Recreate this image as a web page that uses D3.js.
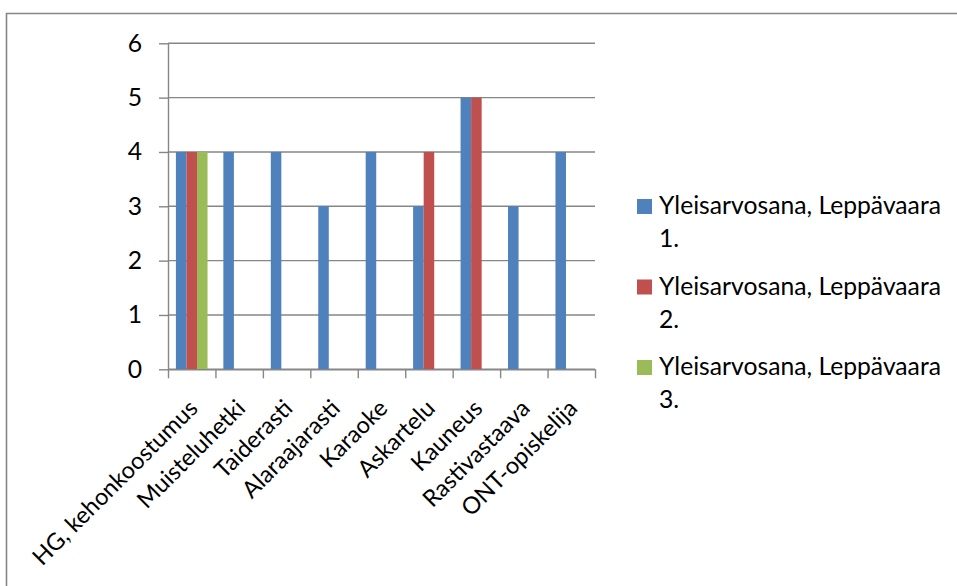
<!DOCTYPE html>
<html>
<head>
<meta charset="utf-8">
<script src="https://cdn.jsdelivr.net/npm/d3@7"></script>
<style>
  html, body { margin: 0; padding: 0; background: #fff; }
  svg { display: block; }
  text { font-family: Lato, "Open Sans", sans-serif; fill: #000; }
</style>
</head>
<body>
<svg id="chart" width="957" height="586"></svg>
<script>
// Activity ratings per group
const categories = ["HG, kehonkoostumus", "Muisteluhetki", "Taiderasti", "Alaraajarasti",
                    "Karaoke", "Askartelu", "Kauneus", "Rastivastaava", "ONT-opiskelija"];
const seriesNames = ["Yleisarvosana, Leppävaara 1.", "Yleisarvosana, Leppävaara 2.", "Yleisarvosana, Leppävaara 3."];
const series1 = [4, 4, 4, 3, 4, 3, 5, 3, 4];
const series2 = [4, null, null, null, null, 4, 5, null, null];
const series3 = [4, null, null, null, null, null, null, null, null];
const yTicks = [0, 1, 2, 3, 4, 5, 6];
const colors = ["#4F81BD", "#C0504D", "#9BBB59"];

const seriesValues = [series1, series2, series3];
const svg = d3.select("#chart");
const gridColor = "#868686";
const fontSize = 24.7;
const catFontSize = 23.5;

// Outer chart frame
svg.append("path")
  .attr("d", "M6.5,586 V13.5 H957")
  .attr("fill", "none")
  .attr("stroke", gridColor)
  .attr("stroke-width", 1.6);

const plot = { left: 168, right: 595, top: 43.3, bottom: 369.3 };

const x = d3.scaleBand().domain(categories).range([plot.left, plot.right]).paddingInner(0).paddingOuter(0);
const xSub = d3.scaleBand().domain(d3.range(seriesNames.length)).range([0, x.bandwidth()]).paddingInner(0).paddingOuter(0.75);
const y = d3.scaleLinear().domain([0, 6]).range([plot.bottom, plot.top]);

// Horizontal gridlines
svg.append("g").selectAll("line").data(yTicks).join("line")
  .attr("x1", plot.left).attr("x2", plot.right)
  .attr("y1", d => y(d)).attr("y2", d => y(d))
  .attr("stroke", gridColor).attr("stroke-width", 1.4);

// Bars
const barData = [];
seriesValues.forEach((vals, s) => vals.forEach((v, i) => {
  if (v != null) barData.push({ s, cat: categories[i], v });
}));
svg.append("g").selectAll("rect").data(barData).join("rect")
  .attr("x", d => x(d.cat) + xSub(d.s))
  .attr("width", xSub.bandwidth())
  .attr("y", d => y(d.v))
  .attr("height", d => y(0) - y(d.v))
  .attr("fill", d => colors[d.s]);

// Y axis
const yAxis = svg.append("g")
  .attr("transform", `translate(${plot.left},0)`)
  .call(d3.axisLeft(y).tickValues(yTicks).tickFormat(d3.format("d")).tickSize(9).tickSizeOuter(0).tickPadding(17));
yAxis.selectAll("path, line").attr("stroke", gridColor).attr("stroke-width", 1.4);
yAxis.selectAll("text").attr("font-size", fontSize).attr("font-family", "Lato, 'Open Sans', sans-serif").attr("fill", "#000");

// X axis with ticks on the category boundaries
const xEdges = d3.scaleLinear().domain([0, categories.length]).range([plot.left, plot.right]);
const xAxis = svg.append("g")
  .attr("transform", `translate(0,${plot.bottom})`)
  .call(d3.axisBottom(xEdges).tickValues(d3.range(categories.length + 1)).tickFormat("").tickSize(9).tickSizeOuter(0));
xAxis.selectAll("path, line").attr("stroke", gridColor).attr("stroke-width", 1.4);

// Rotated category labels
svg.append("g").selectAll("text").data(categories).join("text")
  .attr("transform", d => `translate(${x(d) + x.bandwidth() / 2 - 5},${plot.bottom + 28}) rotate(-45)`)
  .attr("text-anchor", "end")
  .attr("dy", "0.75em")
  .attr("font-size", catFontSize)
  .text(d => d);

// Legend
const legend = svg.append("g");
seriesNames.forEach((name, i) => {
  const baseline = 214 + i * 80.5;
  legend.append("rect")
    .attr("x", 637).attr("y", baseline - 15)
    .attr("width", 15).attr("height", 15)
    .attr("fill", colors[i]);
  const cut = name.lastIndexOf(" ");
  const lines = [name.slice(0, cut), name.slice(cut + 1)];
  lines.forEach((ln, j) => {
    legend.append("text")
      .attr("x", 659).attr("y", baseline + j * 33)
      .attr("font-size", fontSize)
      .text(ln);
  });
});
</script>
</body>
</html>
